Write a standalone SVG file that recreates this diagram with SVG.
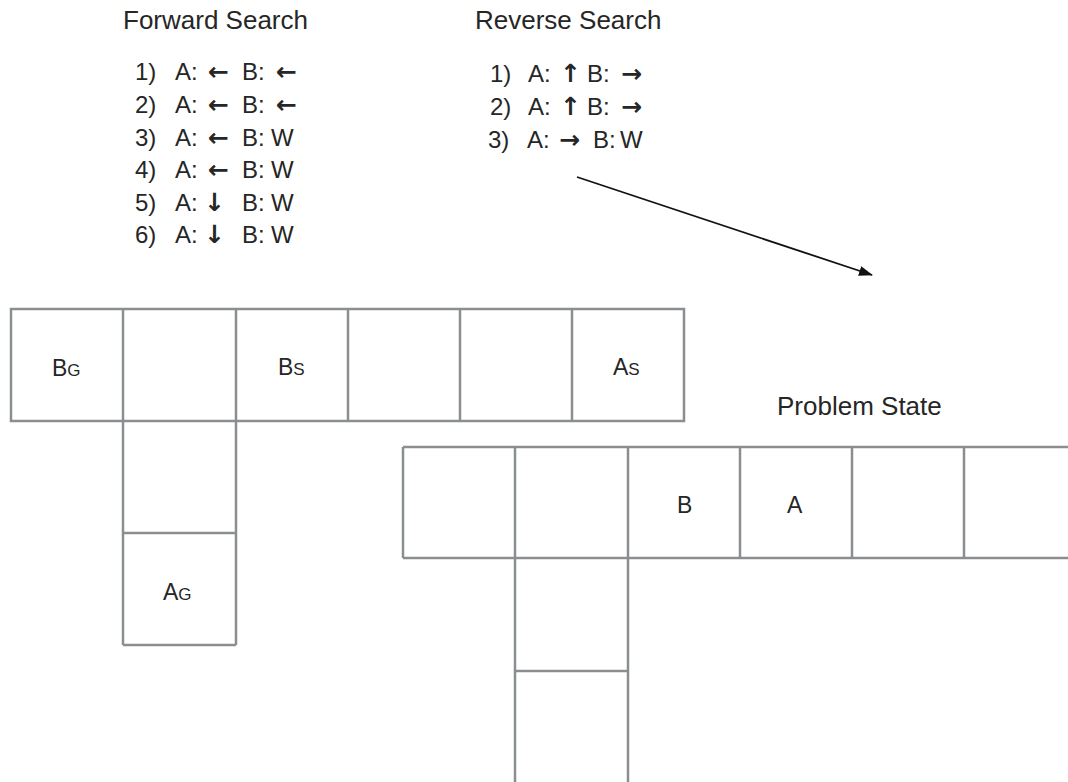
<svg xmlns="http://www.w3.org/2000/svg" width="1068" height="782" viewBox="0 0 1068 782">
<style>
.t{font-family:"Liberation Sans",Arial,sans-serif;font-size:24px;fill:#262626}
.h{font-size:26px}
.l{font-size:23px}
.s{font-size:17px}
.a{font-family:"DejaVu Sans",sans-serif;font-weight:bold;font-size:25px;fill:#262626}
.g{fill:none;stroke:#8b8e91;stroke-width:2.5}
.c{stroke:#111;stroke-width:1.8;fill:none}
</style>
<defs>
<marker id="ah" markerWidth="14" markerHeight="12" refX="13" refY="6" orient="auto" markerUnits="userSpaceOnUse" viewBox="0 0 14 12">
<path d="M0,1 L14,6 L0,11 Z" fill="#111"/>
</marker>
</defs>
<rect width="1068" height="782" fill="#fff"/>
<g id="forward-search">
<text class="t h" x="123" y="29">Forward Search</text>
<text class="t" y="80"><tspan x="135">1)</tspan><tspan x="175">A:</tspan><tspan class="a" x="208">←</tspan><tspan x="242">B:</tspan><tspan class="a" x="276">←</tspan></text>
<text class="t" y="113"><tspan x="135">2)</tspan><tspan x="175">A:</tspan><tspan class="a" x="208">←</tspan><tspan x="242">B:</tspan><tspan class="a" x="276">←</tspan></text>
<text class="t" y="146"><tspan x="135">3)</tspan><tspan x="175">A:</tspan><tspan class="a" x="208">←</tspan><tspan x="242">B:</tspan><tspan x="271">W</tspan></text>
<text class="t" y="178"><tspan x="135">4)</tspan><tspan x="175">A:</tspan><tspan class="a" x="208">←</tspan><tspan x="242">B:</tspan><tspan x="271">W</tspan></text>
<text class="t" y="211"><tspan x="135">5)</tspan><tspan x="175">A:</tspan><tspan class="a" x="204">↓</tspan><tspan x="242">B:</tspan><tspan x="271">W</tspan></text>
<text class="t" y="243"><tspan x="135">6)</tspan><tspan x="175">A:</tspan><tspan class="a" x="204">↓</tspan><tspan x="242">B:</tspan><tspan x="271">W</tspan></text>
</g>
<g id="reverse-search">
<text class="t h" x="475" y="29">Reverse Search</text>
<text class="t" y="82"><tspan x="490">1)</tspan><tspan x="528">A:</tspan><tspan class="a" x="560">↑</tspan><tspan x="587">B:</tspan><tspan class="a" x="621">→</tspan></text>
<text class="t" y="115"><tspan x="490">2)</tspan><tspan x="528">A:</tspan><tspan class="a" x="560">↑</tspan><tspan x="587">B:</tspan><tspan class="a" x="621">→</tspan></text>
<text class="t" y="148"><tspan x="488">3)</tspan><tspan x="527">A:</tspan><tspan class="a" x="559">→</tspan><tspan x="593">B:</tspan><tspan x="620">W</tspan></text>
</g>
<g id="search-grid">
<rect class="g" x="11" y="309" width="673" height="112"/>
<path class="g" d="M123,309V645M236,309V645M348,309V421M460,309V421M572,309V421M123,533H236M123,645H236"/>
<text class="t l" x="52" y="376">B<tspan class="s">G</tspan></text>
<text class="t l" x="278" y="375">B<tspan class="s">S</tspan></text>
<text class="t l" x="613" y="375">A<tspan class="s">S</tspan></text>
<text class="t l" x="163" y="600">A<tspan class="s">G</tspan></text>
</g>
<g id="problem-state">
<text class="t h" x="777" y="415">Problem State</text>
<path class="g" d="M403,447H1070M403,558H1070M403,447V558M515,447V782M628,447V782M740,447V558M852,447V558M964,447V558M515,671H628"/>
<text class="t l" x="677" y="513">B</text>
<text class="t l" x="787" y="513">A</text>
</g>
<g id="connectors">
<line class="c" x1="577" y1="177" x2="872" y2="275" marker-end="url(#ah)"/>
</g>
</svg>
